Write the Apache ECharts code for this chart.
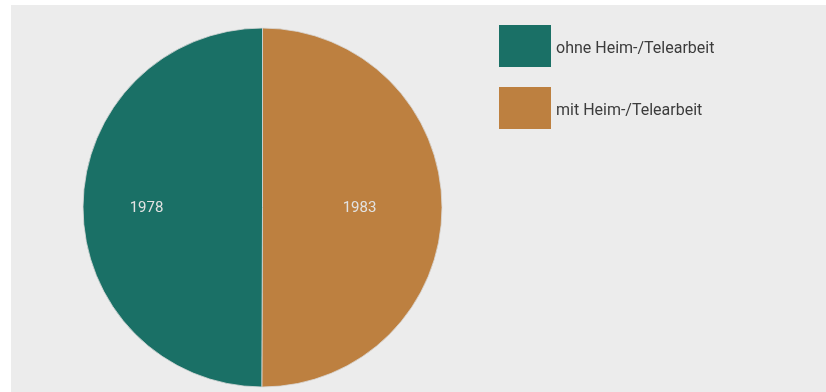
<!DOCTYPE html>
<html>
<head>
<meta charset="utf-8">
<script src="https://cdn.jsdelivr.net/npm/echarts@6/dist/echarts.min.js"></script>
<style>
  html, body { margin: 0; padding: 0; background: #ffffff; width: 826px; height: 392px; overflow: hidden; }
  #chart { position: absolute; left: 11px; top: 5px; width: 815px; height: 387px; }
</style>
</head>
<body>
<div id="chart"></div>
<script>
// Categories, values and colours
const categories = ['mit Heim-/Telearbeit', 'ohne Heim-/Telearbeit'];
const values = [1983, 1978];
const colors = ['#bd8040', '#1a7066'];
const legendOrder = ['ohne Heim-/Telearbeit', 'mit Heim-/Telearbeit'];
// horizontal nudge of each value label
const labelShift = [-22, 3];

const fontFamily = 'Roboto, "Noto Sans", sans-serif';
const center = [251.5, 202.5];
const pieRadius = 179.5;

const pieData = categories.map((name, i) => ({
  name: name,
  value: values[i],
  itemStyle: { color: colors[i] }
}));

const chart = echarts.init(document.getElementById('chart'), null, { renderer: 'canvas' });
chart.setOption({
  backgroundColor: '#ececec',
  animation: false,
  legend: {
    data: legendOrder,
    orient: 'vertical',
    left: 488,
    top: 20,
    padding: 0,
    itemWidth: 52,
    itemHeight: 42,
    itemGap: 20,
    icon: 'rect',
    selectedMode: false,
    itemStyle: { borderWidth: 0 },
    formatter: (name) => '{t|' + name + '}',
    textStyle: {
      fontFamily: fontFamily,
      fontSize: 16,
      color: '#3c3c3c',
      rich: {
        t: { fontFamily: fontFamily, fontSize: 16, color: '#3c3c3c', padding: [5, 0, 0, 0] }
      }
    }
  },
  series: [
    {
      type: 'pie',
      center: center,
      radius: [0, pieRadius],
      startAngle: 90,
      clockwise: true,
      silent: true,
      label: { show: false },
      labelLine: { show: false },
      itemStyle: { borderColor: '#d9d9d9', borderWidth: 0.8 },
      data: pieData
    },
    {
      // invisible ring used only to place the value labels further out
      type: 'pie',
      center: center,
      radius: [0, 232],
      startAngle: 90,
      clockwise: true,
      silent: true,
      legendHoverLink: false,
      itemStyle: { color: 'rgba(0,0,0,0)', borderWidth: 0 },
      label: {
        show: true,
        position: 'inside',
        formatter: '{c}',
        fontFamily: fontFamily,
        fontSize: 15,
        color: '#e2e2e2'
      },
      labelLine: { show: false },
      data: categories.map((name, i) => ({
        name: name + ' ',
        value: values[i],
        label: { offset: [labelShift[i], 1] }
      }))
    }
  ]
});
</script>
</body>
</html>
